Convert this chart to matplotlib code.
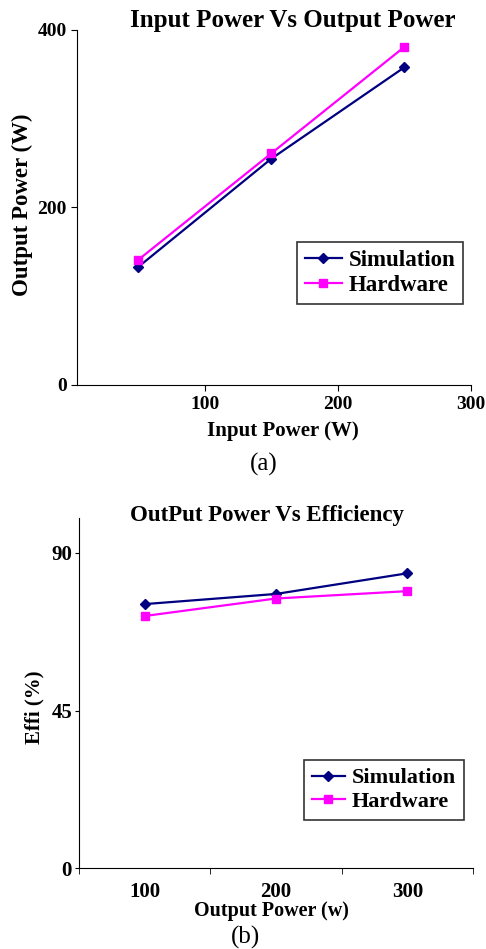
import matplotlib
matplotlib.use("Agg")
import matplotlib.pyplot as plt

# dados
entrada = [50, 150, 250]
sim_saida = [133, 255, 358]
hw_saida = [141, 261, 381]

potencias = ["100", "200", "300"]
sim_efic = [75.4, 78.3, 84.2]
hw_efic = [72.0, 77.0, 79.1]

plt.rcParams["font.family"] = ["Liberation Serif", "DejaVu Serif"]

W, H = 486, 949
fig = plt.figure(figsize=(W / 100, H / 100), dpi=100)

azul = "#000080"
rosa = "#FF00FF"

# (a) entrada x saida
ax1 = fig.add_axes([77 / W, 1 - 385 / H, 394 / W, 355 / H])
ax1.plot(entrada, sim_saida, color=azul, marker="D", markersize=5, linewidth=1.6, label="Simulation")
ax1.plot(entrada, hw_saida, color=rosa, marker="s", markersize=6, linewidth=1.6, label="Hardware")
ax1.set_xlim(4, 300)
ax1.set_ylim(0, 400)
ax1.set_xticks([100, 200, 300])
ax1.set_yticks([0, 200, 400])
ax1.spines["top"].set_visible(False)
ax1.spines["right"].set_visible(False)
ax1.tick_params(direction="out", length=4, labelsize=14)
ax1.tick_params(axis="x", pad=4)
for t in ax1.get_xticklabels() + ax1.get_yticklabels():
    t.set_fontweight("bold")
ax1.set_xlabel("Input Power (W)", fontsize=15, fontweight="bold")
ax1.xaxis.set_label_coords((283 - 77) / 394, (385 - 421) / 355)
ax1.set_ylabel("Output Power (W)", fontsize=16.5, fontweight="bold")
ax1.yaxis.set_label_coords((33 - 77) / 394, (385 - 205) / 355)
fig.text(293 / W, 1 - 21 / H, "Input Power Vs Output Power", fontsize=18, fontweight="bold",
         ha="center", va="center")
leg1 = ax1.legend(loc="upper left", bbox_to_anchor=(297 / W, 1 - 242 / H), bbox_transform=fig.transFigure,
                  prop={"weight": "bold", "size": 16.5}, frameon=True, fancybox=False, edgecolor="black",
                  handlelength=1.6, borderpad=0.35, labelspacing=0.15, handletextpad=0.3, borderaxespad=0)
leg1.get_frame().set_linewidth(1.2)
fig.text(264 / W, 1 - 464 / H, "(a)", fontsize=18, ha="center", va="center")

# (b) saida x eficiencia
ax2 = fig.add_axes([79 / W, 1 - 868 / H, 394 / W, 350 / H])
pos = range(len(potencias))
ax2.plot(pos, sim_efic, color=azul, marker="D", markersize=5, linewidth=1.6, label="Simulation")
ax2.plot(pos, hw_efic, color=rosa, marker="s", markersize=6, linewidth=1.6, label="Hardware")
ax2.set_xlim(-0.5, 2.5)
ax2.set_ylim(0, 100)
ax2.set_yticks([0, 45, 90])
ax2.set_xticks(list(pos))
ax2.set_xticklabels(potencias)
ax2.set_xticks([-0.5, 0.5, 1.5, 2.5], minor=True)
ax2.tick_params(axis="x", which="major", length=0, labelsize=15, pad=10)
ax2.tick_params(axis="x", which="minor", direction="out", length=4)
ax2.tick_params(axis="y", direction="out", length=3, labelsize=15, pad=2)
for t in ax2.get_xticklabels() + ax2.get_yticklabels():
    t.set_fontweight("bold")
ax2.spines["top"].set_visible(False)
ax2.spines["right"].set_visible(False)
ax2.set_xlabel("Output Power (w)", fontsize=14.5, fontweight="bold")
ax2.xaxis.set_label_coords((271 - 79) / 394, (868 - 901) / 350)
ax2.set_ylabel("Effi (%)", fontsize=15, fontweight="bold")
ax2.yaxis.set_label_coords((44 - 79) / 394, (868 - 707) / 350)
fig.text(267 / W, 1 - 516 / H, "OutPut Power Vs Efficiency", fontsize=16.5, fontweight="bold",
         ha="center", va="center")
leg2 = ax2.legend(loc="upper left", bbox_to_anchor=(304 / W, 1 - 760 / H), bbox_transform=fig.transFigure,
                  prop={"weight": "bold", "size": 16}, frameon=True, fancybox=False, edgecolor="black",
                  handlelength=1.5, borderpad=0.35, labelspacing=0.15, handletextpad=0.3, borderaxespad=0)
leg2.get_frame().set_linewidth(1.2)
fig.text(245 / W, 1 - 937 / H, "(b)", fontsize=18, ha="center", va="center")

fig.savefig("out.png", dpi=100)
